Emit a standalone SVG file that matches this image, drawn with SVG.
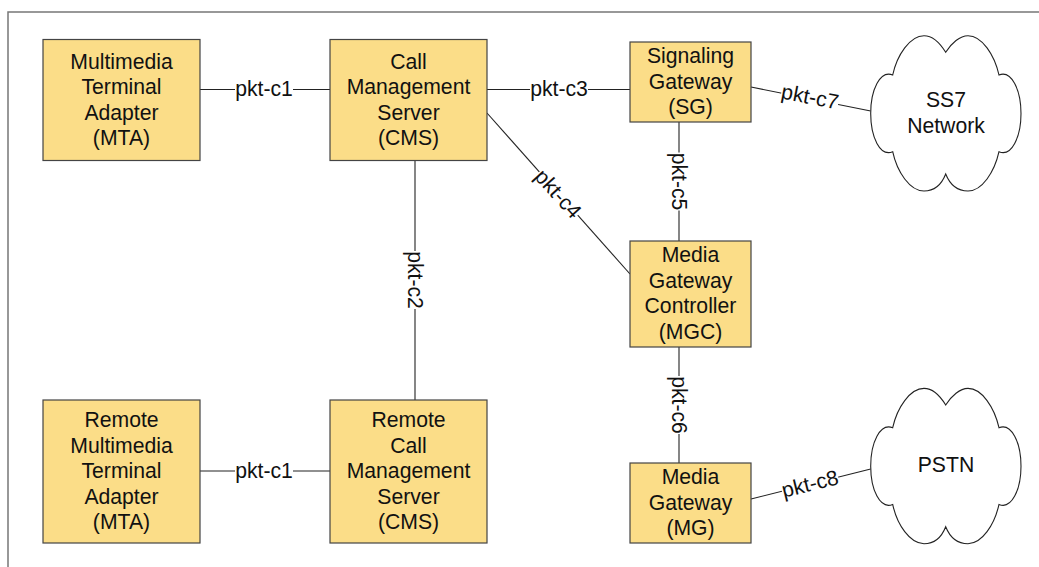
<svg xmlns="http://www.w3.org/2000/svg" width="1039" height="567" viewBox="0 0 1039 567">
<style>
text{font-family:"Liberation Sans",Arial,sans-serif;font-size:21.2px;fill:#111;text-anchor:middle}
.n rect{fill:#fbdd88;stroke:#444;stroke-width:1.2}
.c{fill:#fff;stroke:#222;stroke-width:1.1}
#connectors line{stroke:#222;stroke-width:1.1}
#connectors rect{fill:#fff}
</style>
<defs>
<path id="cloud" d="M945.7 52.300C940 43 932 35.700 924 35.700C910 35.700 897 55 892.700 75C880 70 870.700 90 870.700 113.500C870.700 137 880 157 892.700 151.700C897 172 910 191 924 191C934 191 941 186 945.700 174C950.500 186 958 191 968 191C982 191 994.500 172 999 151.700C1011.500 157 1021 137 1021 113.500C1021 90 1011.500 70 999 75C994.500 55 982 35.700 968 35.700C960 35.700 951.500 43 945.700 52.300Z"/>
</defs>
<path d="M1039 12H8V567" fill="none" stroke="#777" stroke-width="1.500"/>
<g id="connectors">
<line x1="200" y1="89.500" x2="330" y2="89.500"/>
<rect x="235" y="78" width="58" height="24"/>
<text x="264" y="96">pkt-c1</text>
<line x1="200" y1="471" x2="330" y2="471"/>
<rect x="235" y="459" width="58" height="24"/>
<text x="264" y="478">pkt-c1</text>
<line x1="487" y1="89.500" x2="630" y2="89.500"/>
<rect x="530" y="78" width="58" height="24"/>
<text x="559" y="96">pkt-c3</text>
<line x1="415" y1="160" x2="415" y2="400"/>
<g transform="translate(415 280) rotate(90)"><rect x="-29" y="-12" width="58" height="24"/><text y="7">pkt-c2</text></g>
<line x1="487" y1="113" x2="630" y2="274"/>
<g transform="translate(558 194) rotate(48)"><rect x="-29" y="-12" width="58" height="24"/><text y="7">pkt-c4</text></g>
<line x1="679" y1="122" x2="679" y2="241"/>
<g transform="translate(679 181.500) rotate(90)"><rect x="-29" y="-12" width="58" height="24"/><text y="7">pkt-c5</text></g>
<line x1="679" y1="347" x2="679" y2="463"/>
<g transform="translate(679 405) rotate(90)"><rect x="-29" y="-12" width="58" height="24"/><text y="7">pkt-c6</text></g>
<line x1="751" y1="87" x2="870.700" y2="111"/>
<g transform="translate(810 97) rotate(11)"><rect x="-29" y="-12" width="58" height="24"/><text y="7">pkt-c7</text></g>
<line x1="751" y1="499" x2="870.700" y2="469"/>
<g transform="translate(810 484) rotate(-14)"><rect x="-29" y="-12" width="58" height="24"/><text y="7">pkt-c8</text></g>
</g>
<g id="mta" class="n"><rect x="43" y="39.500" width="157" height="121"/><text x="121.500" y="68.500">Multimedia</text><text x="121.500" y="94">Terminal</text><text x="121.500" y="119.500">Adapter</text><text x="121.500" y="145">(MTA)</text></g>
<g id="cms" class="n"><rect x="330" y="39.500" width="157" height="121"/><text x="408.500" y="68.500">Call</text><text x="408.500" y="94">Management</text><text x="408.500" y="119.500">Server</text><text x="408.500" y="145">(CMS)</text></g>
<g id="sg" class="n"><rect x="630" y="42" width="121" height="80"/><text x="690.500" y="63">Signaling</text><text x="690.500" y="88.500">Gateway</text><text x="690.500" y="114">(SG)</text></g>
<g id="mgc" class="n"><rect x="630" y="241" width="121" height="106"/><text x="690.500" y="262">Media</text><text x="690.500" y="288">Gateway</text><text x="690.500" y="313">Controller</text><text x="690.500" y="339">(MGC)</text></g>
<g id="mg" class="n"><rect x="630" y="463" width="121" height="80"/><text x="690.500" y="484">Media</text><text x="690.500" y="510">Gateway</text><text x="690.500" y="535">(MG)</text></g>
<g id="rmta" class="n"><rect x="43" y="400" width="157" height="143"/><text x="121.500" y="427">Remote</text><text x="121.500" y="452.500">Multimedia</text><text x="121.500" y="478">Terminal</text><text x="121.500" y="503.500">Adapter</text><text x="121.500" y="529">(MTA)</text></g>
<g id="rcms" class="n"><rect x="330" y="400" width="157" height="143"/><text x="408.500" y="427">Remote</text><text x="408.500" y="452.500">Call</text><text x="408.500" y="478">Management</text><text x="408.500" y="503.500">Server</text><text x="408.500" y="529">(CMS)</text></g>
<g id="ss7"><use href="#cloud" class="c"/><text x="946" y="107">SS7</text><text x="946" y="133">Network</text></g>
<g id="pstn"><use href="#cloud" class="c" y="352.700"/><text x="946" y="472">PSTN</text></g>
</svg>
